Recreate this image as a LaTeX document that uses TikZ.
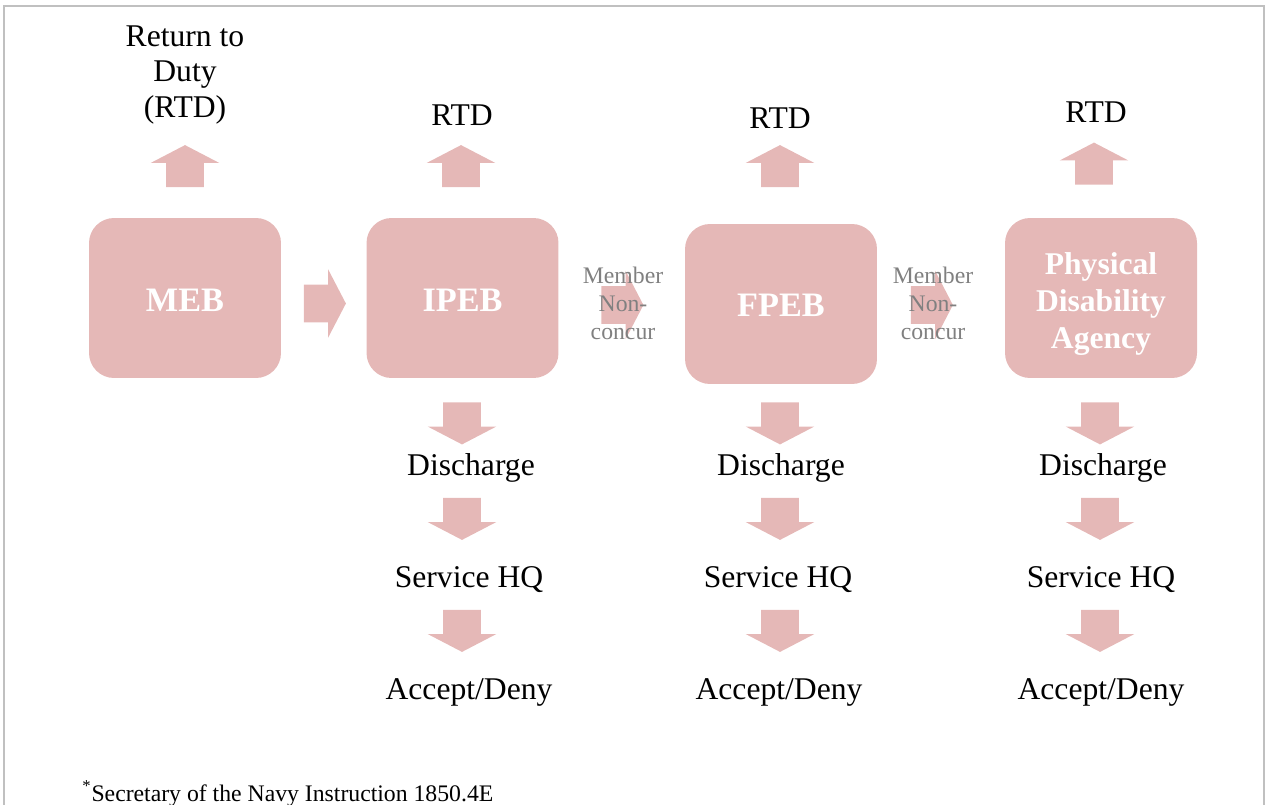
\documentclass[tikz,border=0pt]{standalone}
\usepackage{fontspec}
\setmainfont{Liberation Serif}
\usetikzlibrary{shapes.arrows}
\definecolor{boxpink}{HTML}{E5B8B7}
\definecolor{notegray}{HTML}{808080}
\definecolor{framegray}{HTML}{C0C0C0}
\tikzset{
  board/.style={rectangle, rounded corners=0.5cm, fill=boxpink, minimum width=3.84cm, minimum height=3.2cm},
  boardtxt/.style={text=white, align=center, inner sep=0pt, font=\fontsize{19.5}{22}\selectfont\bfseries},
  blockarr/.style={single arrow, fill=boxpink, draw=none, minimum height=0.84cm, minimum width=1.36cm,
    single arrow head extend=0.31cm, single arrow tip angle=125},
  harrow/.style={blockarr, inner xsep=0pt, inner ysep=0.37cm},
  varrow/.style={blockarr, inner xsep=0.37cm, inner ysep=0pt},
  lbl/.style={align=center, inner sep=0pt, font=\fontsize{18}{20.3}\selectfont},
  note/.style={align=center, inner sep=0pt, text=notegray, font=\fontsize{13.5}{16}\selectfont},
}
\begin{document}
\begin{tikzpicture}[x=0.02cm, y=-0.02cm]
    \useasboundingbox (0,0) rectangle (1266,804);
    \draw[framegray, line width=1.1pt] (4,810) -- (4,6) -- (1264,6) -- (1264,810);

    % 箱
    \node[board] (meb) at (185, 298) {};
    \node[board] (ipeb) at (462.5, 298) {};
    \node[board] (fpeb) at (781, 304) {};
    \node[board] (pda) at (1101, 298) {};

    \node[boardtxt, anchor=base] (mebtxt) at ([yshift=-0.26cm]meb.center) {MEB};
    \node[boardtxt, anchor=base] (ipebtxt) at ([yshift=-0.26cm]ipeb.center) {IPEB};
    \node[boardtxt, anchor=base] (fpebtxt) at ([yshift=-0.26cm]fpeb.center) {FPEB};
    \node[boardtxt, font=\fontsize{18}{21.3}\selectfont\bfseries] (pdatxt) at ([yshift=-0.12cm]pda.center)
        {Physical\\Disability\\Agency};

    % 矢印
    \node[varrow, shape border rotate=90] (up0) at (185, 171) {};
    \node[varrow, shape border rotate=90] (up1) at (461, 171) {};
    \node[varrow, shape border rotate=90] (up2) at (780, 171) {};
    \node[varrow, shape border rotate=90] (up3) at (1094, 168.5) {};

    \node[harrow] (r1) at (320, 303.5) {};
    \node[harrow] (r2) at (617.5, 305) {};
    \node[harrow] (r3) at (927, 305) {};

    \node[varrow, shape border rotate=270] (d11) at (462, 418.5) {};
    \node[varrow, shape border rotate=270] (d12) at (462, 514) {};
    \node[varrow, shape border rotate=270] (d13) at (462, 626) {};
    \node[varrow, shape border rotate=270] (d21) at (780, 418.5) {};
    \node[varrow, shape border rotate=270] (d22) at (780, 514) {};
    \node[varrow, shape border rotate=270] (d23) at (780, 626) {};
    \node[varrow, shape border rotate=270] (d31) at (1100, 418.5) {};
    \node[varrow, shape border rotate=270] (d32) at (1100, 514) {};
    \node[varrow, shape border rotate=270] (d33) at (1100, 626) {};

    % 文字
    \node[lbl] (rtd0) at (185, 75) {Return to\\Duty\\(RTD)};
    \node[lbl, anchor=base] (rtd1) at (462, 126) {RTD};
    \node[lbl, anchor=base] (rtd2) at (780, 129) {RTD};
    \node[lbl, anchor=base] (rtd3) at (1096, 123) {RTD};

    \node[lbl, anchor=base] (dis1) at (471, 475) {Discharge};
    \node[lbl, anchor=base] (hq1) at (469, 587) {Service HQ};
    \node[lbl, anchor=base] (acc1) at (469, 699) {Accept/Deny};
    \node[lbl, anchor=base] (dis2) at (781, 475) {Discharge};
    \node[lbl, anchor=base] (hq2) at (778, 587) {Service HQ};
    \node[lbl, anchor=base] (acc2) at (779, 699) {Accept/Deny};
    \node[lbl, anchor=base] (dis3) at (1103, 475) {Discharge};
    \node[lbl, anchor=base] (hq3) at (1101, 587) {Service HQ};
    \node[lbl, anchor=base] (acc3) at (1101, 699) {Accept/Deny};

    \node[note] (nc1) at (623, 303) {Member\\Non-\\concur};
    \node[note] (nc2) at (933, 303) {Member\\Non-\\concur};

    \node[anchor=base west, inner sep=0pt, font=\fontsize{13.5}{16}\selectfont] (src) at (82, 801)
        {\textsuperscript{*}Secretary of the Navy Instruction 1850.4E};
\end{tikzpicture}
\end{document}
